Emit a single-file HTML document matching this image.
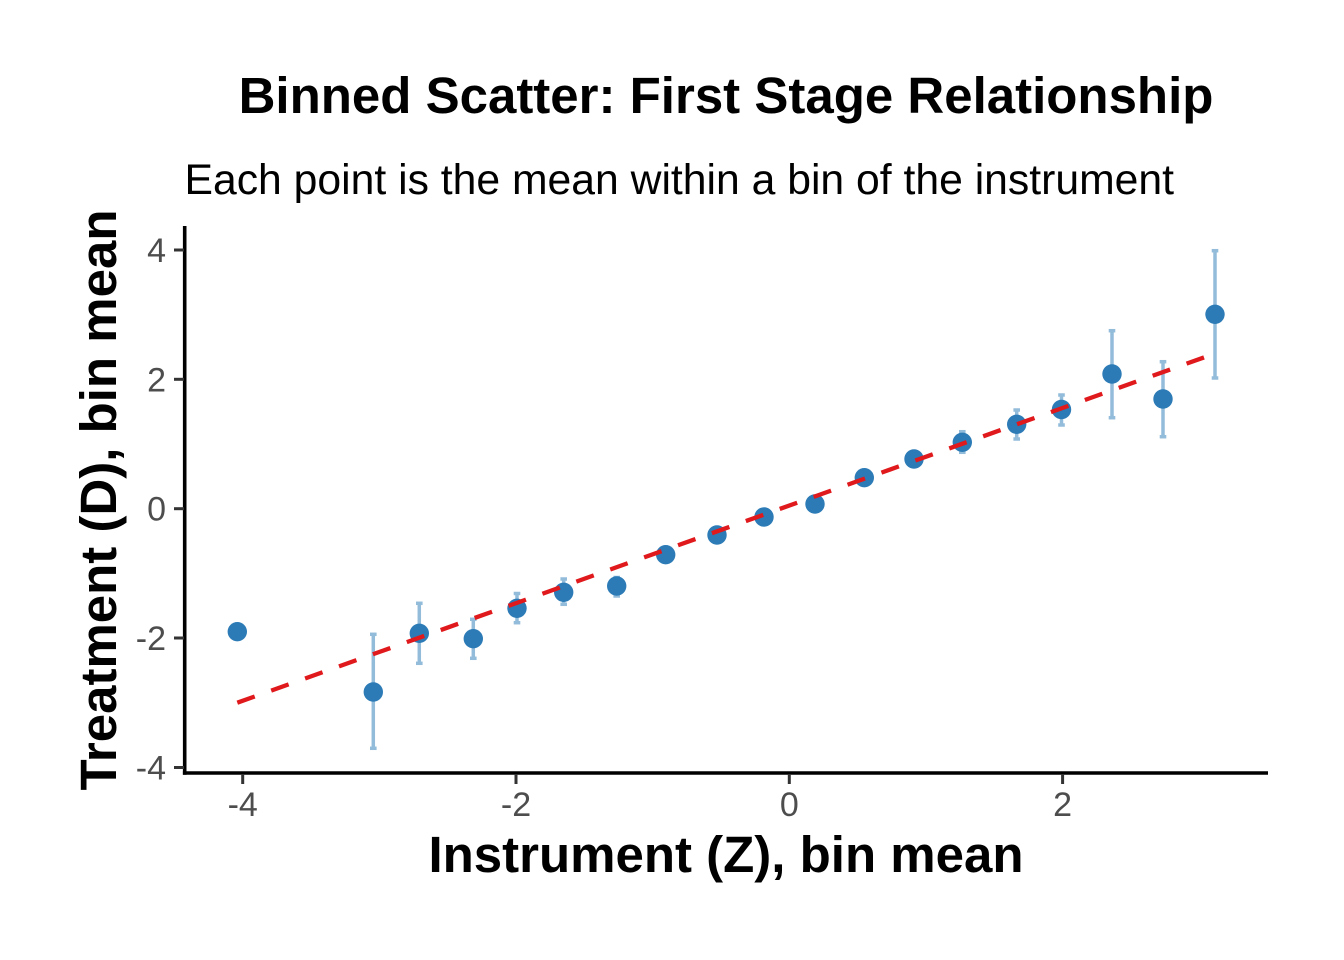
<!DOCTYPE html>
<html>
<head>
<meta charset="utf-8">
<style>
html,body{margin:0;padding:0;background:#fff;}
svg{display:block;}
text{font-family:"Liberation Sans","DejaVu Sans",sans-serif;}
</style>
</head>
<body>
<svg width="1344" height="960" viewBox="0 0 1344 960" xmlns="http://www.w3.org/2000/svg">
<rect width="1344" height="960" fill="#fff"/>

<!-- Title / subtitle -->
<text x="726" y="113" font-size="51" font-weight="bold" text-anchor="middle" fill="#000">Binned Scatter: First Stage Relationship</text>
<text x="184.5" y="194" font-size="42.7" fill="#000">Each point is the mean within a bin of the instrument</text>

<!-- Error bars -->
<g stroke="#93BCDA" stroke-width="3.5" fill="none">
  <line x1="373.3" y1="634.3" x2="373.3" y2="748.3"/>
  <line x1="370" y1="634.3" x2="376.6" y2="634.3"/><line x1="370" y1="748.3" x2="376.6" y2="748.3"/>
  <line x1="419.3" y1="603.3" x2="419.3" y2="663.3"/>
  <line x1="416" y1="603.3" x2="422.6" y2="603.3"/><line x1="416" y1="663.3" x2="422.6" y2="663.3"/>
  <line x1="473.3" y1="619.3" x2="473.3" y2="658.3"/>
  <line x1="470" y1="619.3" x2="476.6" y2="619.3"/><line x1="470" y1="658.3" x2="476.6" y2="658.3"/>
  <line x1="517" y1="593.5" x2="517" y2="622.7"/>
  <line x1="513.7" y1="593.5" x2="520.3" y2="593.5"/><line x1="513.7" y1="622.7" x2="520.3" y2="622.7"/>
  <line x1="563.7" y1="579" x2="563.7" y2="604.3"/>
  <line x1="560.4" y1="579" x2="567" y2="579"/><line x1="560.4" y1="604.3" x2="567" y2="604.3"/>
  <line x1="616.7" y1="577.5" x2="616.7" y2="596"/>
  <line x1="613.4" y1="577.5" x2="620" y2="577.5"/><line x1="613.4" y1="596" x2="620" y2="596"/>
  <line x1="962.3" y1="431.7" x2="962.3" y2="452.3"/>
  <line x1="959" y1="431.7" x2="965.6" y2="431.7"/><line x1="959" y1="452.3" x2="965.6" y2="452.3"/>
  <line x1="1016.7" y1="410" x2="1016.7" y2="439"/>
  <line x1="1013.4" y1="410" x2="1020" y2="410"/><line x1="1013.4" y1="439" x2="1020" y2="439"/>
  <line x1="1061.5" y1="395" x2="1061.5" y2="425"/>
  <line x1="1058.2" y1="395" x2="1064.8" y2="395"/><line x1="1058.2" y1="425" x2="1064.8" y2="425"/>
  <line x1="1112" y1="330.7" x2="1112" y2="417.7"/>
  <line x1="1108.7" y1="330.7" x2="1115.3" y2="330.7"/><line x1="1108.7" y1="417.7" x2="1115.3" y2="417.7"/>
  <line x1="1163" y1="361.7" x2="1163" y2="436.7"/>
  <line x1="1159.7" y1="361.7" x2="1166.3" y2="361.7"/><line x1="1159.7" y1="436.7" x2="1166.3" y2="436.7"/>
  <line x1="1215" y1="250.7" x2="1215" y2="378"/>
  <line x1="1211.7" y1="250.7" x2="1218.3" y2="250.7"/><line x1="1211.7" y1="378" x2="1218.3" y2="378"/>
</g>

<!-- Points -->
<g fill="#2C7BB6">
  <circle cx="237.3" cy="631.7" r="9.7"/>
  <circle cx="373.3" cy="692" r="9.7"/>
  <circle cx="419.3" cy="633.3" r="9.7"/>
  <circle cx="473.3" cy="638.7" r="9.7"/>
  <circle cx="517" cy="608.3" r="9.7"/>
  <circle cx="563.7" cy="592.3" r="9.7"/>
  <circle cx="616.7" cy="586" r="9.7"/>
  <circle cx="665.7" cy="554.7" r="9.7"/>
  <circle cx="717" cy="535" r="9.7"/>
  <circle cx="764" cy="517" r="9.7"/>
  <circle cx="815" cy="504" r="9.7"/>
  <circle cx="864.3" cy="477.7" r="9.7"/>
  <circle cx="914" cy="459" r="9.7"/>
  <circle cx="962.3" cy="442.3" r="9.7"/>
  <circle cx="1016.7" cy="424.3" r="9.7"/>
  <circle cx="1061.5" cy="409.5" r="9.7"/>
  <circle cx="1112" cy="374" r="9.7"/>
  <circle cx="1163" cy="399" r="9.7"/>
  <circle cx="1215" cy="314.3" r="9.7"/>
</g>

<!-- Fit line -->
<line x1="237.3" y1="702.7" x2="1215" y2="353.5" stroke="#E0191C" stroke-width="4.3" stroke-dasharray="18.5 17.5" stroke-linecap="butt"/>

<!-- Axes -->
<g stroke="#000" stroke-width="3.6" fill="none">
  <line x1="184.7" y1="226" x2="184.7" y2="774.8"/>
  <line x1="182.9" y1="773" x2="1268" y2="773"/>
</g>
<!-- Ticks -->
<g stroke="#333" stroke-width="3">
  <line x1="174" y1="250" x2="184" y2="250"/>
  <line x1="174" y1="379.3" x2="184" y2="379.3"/>
  <line x1="174" y1="508.7" x2="184" y2="508.7"/>
  <line x1="174" y1="638" x2="184" y2="638"/>
  <line x1="174" y1="767.5" x2="184" y2="767.5"/>
  <line x1="242.7" y1="774" x2="242.7" y2="784"/>
  <line x1="516" y1="774" x2="516" y2="784"/>
  <line x1="789.3" y1="774" x2="789.3" y2="784"/>
  <line x1="1062.6" y1="774" x2="1062.6" y2="784"/>
</g>
<!-- Tick labels -->
<g font-size="34" fill="#4D4D4D">
  <g text-anchor="end">
    <text x="166" y="262">4</text>
    <text x="166" y="391.3">2</text>
    <text x="166" y="520.7">0</text>
    <text x="166" y="650">-2</text>
    <text x="166" y="779.5">-4</text>
  </g>
  <g text-anchor="middle">
    <text x="242.7" y="816">-4</text>
    <text x="516" y="816">-2</text>
    <text x="789.3" y="816">0</text>
    <text x="1062.6" y="816">2</text>
  </g>
</g>

<!-- Axis titles -->
<text x="726" y="872" font-size="51" font-weight="bold" text-anchor="middle" fill="#000">Instrument (Z), bin mean</text>
<text transform="translate(116,500) rotate(-90)" font-size="51" font-weight="bold" text-anchor="middle" fill="#000">Treatment (D), bin mean</text>
</svg>
</body>
</html>
